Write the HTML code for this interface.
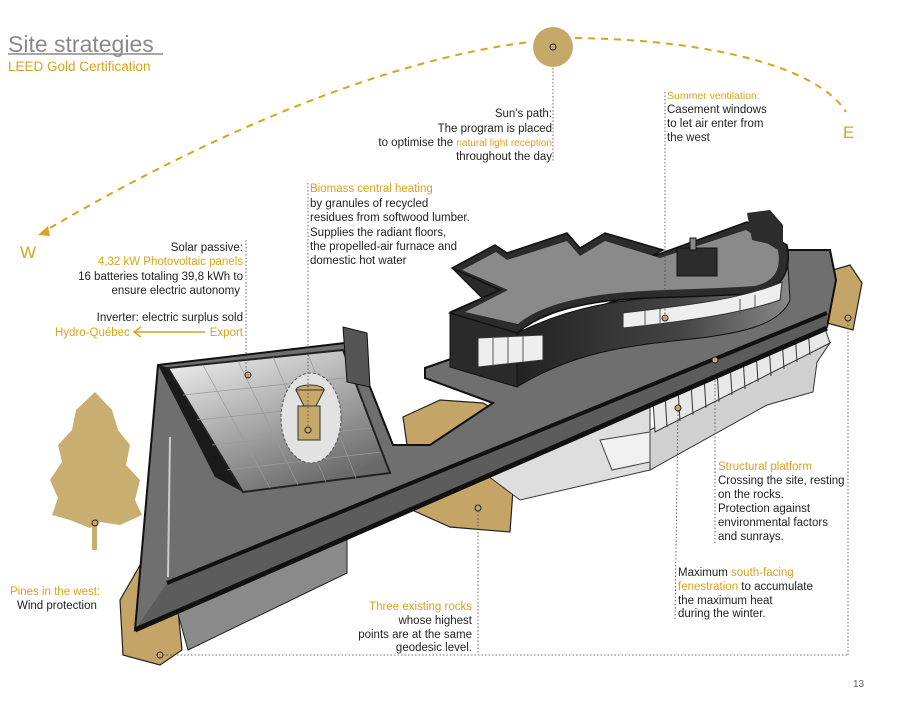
<!DOCTYPE html>
<html><head><meta charset="utf-8"><style>
html,body{margin:0;padding:0;background:#fff;}
svg{display:block;}
.t{font-family:"Liberation Sans Narrow","Liberation Sans",sans-serif;font-size:11.5px;fill:#222;}
.g{fill:#d9a21f;}
</style></head><body>
<svg width="900" height="713" viewBox="0 0 900 713" xmlns="http://www.w3.org/2000/svg">
<defs>
<linearGradient id="gp" x1="0" y1="0" x2="0.6" y2="1">
<stop offset="0" stop-color="#f6f6f6"/><stop offset="1" stop-color="#6a6a6a"/></linearGradient>
<linearGradient id="gw" x1="0" y1="0" x2="1" y2="0">
<stop offset="0" stop-color="#222"/><stop offset="0.6" stop-color="#444"/><stop offset="1" stop-color="#888"/></linearGradient>
</defs>
<rect width="900" height="713" fill="#fff"/>
<!-- title -->
<text x="8" y="52" font-family="Liberation Sans, sans-serif" font-size="23" fill="#8a8a8a">Site strategies</text>
<line x1="8" y1="54" x2="163" y2="54" stroke="#8a8a8a" stroke-width="1.5"/>
<text x="8" y="71" font-family="Liberation Sans, sans-serif" font-size="13.5" fill="#d9a21f">LEED Gold Certification</text>
<!-- sun path -->
<path d="M50,228 C200,140 380,60 530,42" fill="none" stroke="#d9a21f" stroke-width="2" stroke-dasharray="7,6"/>
<path d="M575,38 C720,40 820,70 846,112" fill="none" stroke="#d9a21f" stroke-width="2" stroke-dasharray="7,6"/>
<polygon points="38,235 48,226 50,236" fill="#d9a21f"/>
<circle cx="553" cy="47" r="20" fill="#c6a969"/>
<circle cx="553" cy="47" r="3" fill="none" stroke="#222"/>
<text x="20" y="258" font-family="Liberation Sans, sans-serif" font-size="17" fill="#d9a21f">W</text>
<text x="843" y="138" font-family="Liberation Sans, sans-serif" font-size="17" fill="#d9a21f">E</text>

<!-- tree -->
<g fill="#c9ae72">
<polygon points="95,392 112,410 118,430 130,445 126,465 140,480 135,500 142,515 120,525 100,522 90,528 70,520 52,515 58,498 50,480 62,462 58,445 72,430 76,410"/>
<rect x="92" y="520" width="5" height="30"/>
</g>
<circle cx="95" cy="523" r="3" fill="#c6a969" stroke="#222"/>

<!-- rocks -->
<g fill="#c4a467" stroke="#222" stroke-width="1.2">
<polygon points="143,560 120,600 123,655 160,665 182,650 178,610"/>
<polygon points="403,417 440,400 483,403 495,410 430,446 407,445"/>
<polygon points="412,510 493,467 513,490 510,532 450,527"/>
<polygon points="833,270 850,265 862,283 853,330 827,323"/>
</g>

<!-- lower facade -->
<polygon points="480,470 650,405 650,470 520,500" fill="#dedede" stroke="#333"/>
<polygon points="650,430 830,343 817,362 813,392 767,405 650,470" fill="#d0d0d0" stroke="#333"/>
<polygon points="653,400 822,320 830,343 655,432" fill="#e8e8e8" stroke="#333"/>
<g stroke="#333" stroke-width="1">
<line x1="665" y1="395" x2="667" y2="427"/><line x1="678" y1="389" x2="680" y2="421"/>
<line x1="691" y1="383" x2="693" y2="415"/><line x1="704" y1="377" x2="706" y2="408"/>
<line x1="717" y1="371" x2="719" y2="402"/><line x1="730" y1="364" x2="732" y2="395"/>
<line x1="743" y1="358" x2="745" y2="389"/><line x1="756" y1="352" x2="758" y2="382"/>
<line x1="769" y1="345" x2="771" y2="376"/><line x1="782" y1="339" x2="784" y2="369"/>
<line x1="795" y1="333" x2="797" y2="362"/><line x1="808" y1="327" x2="810" y2="355"/>
</g>
<polygon points="600,440 650,432 650,462 612,470" fill="#f0f0f0" stroke="#444"/>
<!-- wing under wall -->
<polygon points="177,610 347,533 347,573 188,650" fill="#8a8a8a" stroke="#222"/>

<!-- main platform -->
<polygon points="158,365 345,343 370,387 393,445 430,445 493,403 425,378 425,368 448,360 760,250 830,250 836,280 827,327 135,630" fill="#6f6f6f" stroke="#111" stroke-width="2"/>
<!-- fascia -->
<polygon points="167,583 827,313 827,328 135,630" fill="#5c5c5c"/>
<line x1="167" y1="583" x2="827" y2="313" stroke="#111" stroke-width="4"/>
<line x1="135" y1="630" x2="827" y2="328" stroke="#111" stroke-width="5"/>
<polyline points="170,437 168,577" stroke="#ccc" stroke-width="2" fill="none"/>
<!-- recess black face -->
<polygon points="158,365 170,368 243,492 215,477" fill="#1a1a1a"/>
<!-- skylight panel -->
<polygon points="168,368 343,350 390,473 243,492" fill="url(#gp)" stroke="#222" stroke-width="2"/>
<g stroke="#999" stroke-width="0.7">
<line x1="203" y1="365" x2="270" y2="488"/><line x1="238" y1="361" x2="298" y2="485"/>
<line x1="273" y1="357" x2="326" y2="482"/><line x1="308" y1="354" x2="356" y2="478"/>
<line x1="183" y1="395" x2="353" y2="377"/><line x1="197" y1="420" x2="363" y2="403"/>
<line x1="212" y1="445" x2="372" y2="428"/><line x1="227" y1="470" x2="381" y2="452"/>
</g>
<polygon points="343,327 367,333 370,387 347,382" fill="#555" stroke="#111"/>
<!-- heater -->
<ellipse cx="311" cy="418" rx="30" ry="45" fill="#e2e2e2" stroke="#555" stroke-dasharray="3,2"/>
<ellipse cx="310" cy="390" rx="14" ry="5" fill="#c6a969" stroke="#333"/>
<polygon points="296,390 324,390 314,410 306,410" fill="#c6a969" stroke="#333"/>
<rect x="298" y="406" width="22" height="34" fill="#c6a969" stroke="#333"/>

<!-- upper block: walls -->
<polygon points="452,268 500,290 450,312 450,367 517,387 517,333" fill="#2a2a2a" stroke="#111"/>
<path d="M517,333 C560,312 600,302 660,297 C720,294 770,292 787,250 L790,300 C780,325 740,333 700,338 C640,345 580,348 517,387 Z" fill="url(#gw)" stroke="#111"/>
<!-- roof -->
<path d="M452,268 L495,245 L507,253 L567,233 L580,248 L605,233 L663,250 L648,258 L747,222 L787,245 C792,270 782,288 760,293 C700,298 640,296 600,302 C560,308 535,318 517,333 L450,313 L500,290 Z" fill="#2c2c2c" stroke="#111" stroke-width="1.5"/>
<path d="M462,270 L496,252 L507,260 L567,241 L580,256 L605,241 L660,258 L746,230 L778,250 C782,272 772,282 755,286 C700,290 640,289 600,295 C560,301 535,310 518,324 L465,312 L508,290 Z" fill="#8a8a8a"/>
<rect x="677" y="248" width="40" height="28" fill="#2c2c2c" stroke="#111"/>
<rect x="690" y="238" width="6" height="12" fill="#888" stroke="#111"/>
<polygon points="747,213 770,210 783,225 783,247 752,240" fill="#2c2c2c"/>
<!-- windows -->
<path d="M623,313 C680,306 740,300 782,282 L780,300 C740,314 680,322 623,328 Z" fill="#eee" stroke="#333"/>
<g stroke="#555"><line x1="645" y1="310" x2="645" y2="326"/><line x1="660" y1="309" x2="660" y2="325"/><line x1="740" y1="299" x2="740" y2="315"/><line x1="755" y1="295" x2="755" y2="310"/></g>
<polygon points="478,338 543,335 543,360 478,367" fill="#eee" stroke="#333"/>
<g stroke="#555"><line x1="493" y1="338" x2="493" y2="366"/><line x1="508" y1="337" x2="508" y2="364"/><line x1="523" y1="336" x2="523" y2="362"/></g>

<!-- dots -->
<g fill="#c6a969" stroke="#222" stroke-width="1">
<circle cx="248" cy="375" r="3"/><circle cx="308" cy="430" r="3"/>
<circle cx="665" cy="318" r="3"/><circle cx="715" cy="360" r="3"/>
<circle cx="678" cy="408" r="3"/><circle cx="478" cy="508" r="3"/>
<circle cx="848" cy="318" r="3"/><circle cx="160" cy="655" r="3"/>
</g>

<!-- leaders -->
<g stroke="#444" stroke-width="0.8" stroke-dasharray="1.5,2" fill="none">
<line x1="553" y1="68" x2="553" y2="162"/>
<line x1="665" y1="92" x2="665" y2="315"/>
<line x1="308" y1="183" x2="308" y2="427"/>
<line x1="246" y1="240" x2="246" y2="372"/>
<line x1="715" y1="363" x2="715" y2="545"/>
<line x1="678" y1="411" x2="675" y2="620"/>
<line x1="478" y1="511" x2="478" y2="655"/>
<line x1="848" y1="321" x2="848" y2="655"/>
<line x1="163" y1="655" x2="848" y2="655"/>
</g>

<!-- text -->
<g class="t">
<text x="552" y="117" text-anchor="end">Sun's path:</text>
<text x="552" y="132" text-anchor="end">The program is placed</text>
<text x="552" y="146" text-anchor="end">to optimise the <tspan class="g" font-size="10">natural light reception</tspan></text>
<text x="552" y="160" text-anchor="end">throughout the day</text>

<text x="667" y="99" class="g" font-size="10.5">Summer ventilation:</text>
<text x="667" y="113">Casement windows</text>
<text x="667" y="127">to let air enter from</text>
<text x="667" y="141">the west</text>

<text x="310" y="192" class="g">Biomass central heating</text>
<text x="310" y="207">by granules of recycled</text>
<text x="310" y="221">residues from softwood lumber.</text>
<text x="310" y="236">Supplies the radiant floors,</text>
<text x="310" y="250">the propelled-air furnace and</text>
<text x="310" y="264">domestic hot water</text>

<text x="243" y="251" text-anchor="end">Solar passive:</text>
<text x="243" y="265" text-anchor="end" class="g">4,32 kW Photovoltaic panels</text>
<text x="243" y="280" text-anchor="end">16 batteries totaling 39,8 kWh to</text>
<text x="240" y="294" text-anchor="end">ensure electric autonomy</text>
<text x="243" y="321" text-anchor="end">Inverter: electric surplus sold</text>
<text x="55" y="336" class="g">Hydro-Québec</text>
<text x="243" y="336" text-anchor="end" class="g">Export</text>

<text x="718" y="470" class="g">Structural platform</text>
<text x="718" y="484">Crossing the site, resting</text>
<text x="718" y="498">on the rocks.</text>
<text x="718" y="512">Protection against</text>
<text x="718" y="526">environmental factors</text>
<text x="718" y="540">and sunrays.</text>

<text x="678" y="576">Maximum <tspan class="g">south-facing</tspan></text>
<text x="678" y="590"><tspan class="g">fenestration</tspan> to accumulate</text>
<text x="678" y="604">the maximum heat</text>
<text x="678" y="617">during the winter.</text>

<text x="472" y="610" text-anchor="end" class="g">Three existing rocks</text>
<text x="472" y="624" text-anchor="end">whose highest</text>
<text x="472" y="638" text-anchor="end">points are at the same</text>
<text x="472" y="651" text-anchor="end">geodesic level.</text>

<text x="10" y="595" class="g">Pines in the west:</text>
<text x="17" y="609">Wind protection</text>
</g>
<line x1="134" y1="332" x2="205" y2="332" stroke="#d9a21f" stroke-width="1.5"/>
<polyline points="141,327 134,332 141,337" fill="none" stroke="#d9a21f" stroke-width="1.5"/>
<text x="853" y="687" font-family="Liberation Sans, sans-serif" font-size="10" fill="#666">13</text>
</svg>
</body></html>
